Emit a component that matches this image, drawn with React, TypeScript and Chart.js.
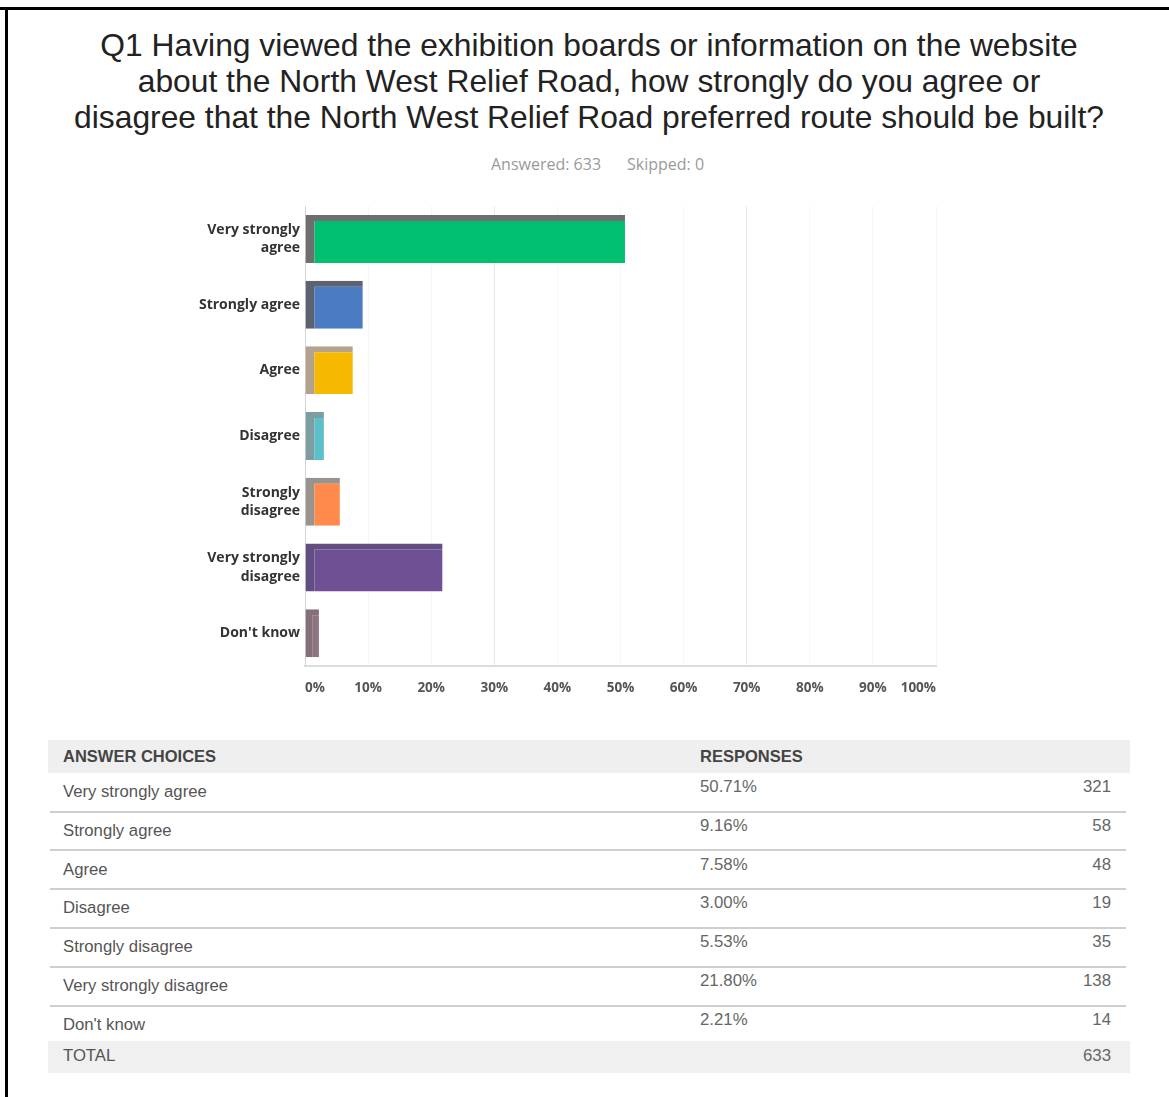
import React, { useEffect, useRef } from "react"
import { Chart, registerables } from "chart.js"

Chart.register(...registerables)

// chart data
const chartLabels: (string | string[])[] = [
  ["Very strongly", "agree"],
  "Strongly agree",
  "Agree",
  "Disagree",
  ["Strongly", "disagree"],
  ["Very strongly", "disagree"],
  "Don't know",
]
const answerChoices = [
  "Very strongly agree",
  "Strongly agree",
  "Agree",
  "Disagree",
  "Strongly disagree",
  "Very strongly disagree",
  "Don't know",
]
const percentages = [50.71, 9.16, 7.58, 3.0, 5.53, 21.8, 2.21]
const responseCounts = [321, 58, 48, 19, 35, 138, 14]
const totalCount = 633
const skippedCount = 0
const barColors = ["#00BF6F", "#4A7BC3", "#F7B900", "#5BC0C7", "#FF8A4C", "#6F5095", "#8E7480"]
const barEdgeColors = ["#6E6E6E", "#5C6270", "#B3A38E", "#7E9DA2", "#9A928C", "#624E82", "#847079"]

const titleLines = [
  "Q1 Having viewed the exhibition boards or information on the website",
  "about the North West Relief Road, how strongly do you agree or",
  "disagree that the North West Relief Road preferred route should be built?",
]

function BarChart() {
  const chartRef = useRef<HTMLCanvasElement>(null)
  const chartInstance = useRef<Chart | null>(null)

  useEffect(() => {
    if (!chartRef.current) return
    if (chartInstance.current) chartInstance.current.destroy()
    const ctx = chartRef.current.getContext("2d")
    if (!ctx) return

    chartInstance.current = new Chart(ctx, {
      type: "bar",
      data: {
        labels: chartLabels,
        datasets: [
          {
            data: percentages,
            backgroundColor: barColors,
            borderColor: barEdgeColors,
            borderWidth: { top: 6, left: 9, right: 0, bottom: 0 },
            borderSkipped: false,
            barPercentage: 0.73,
            categoryPercentage: 1,
          },
        ],
      },
      options: {
        indexAxis: "y",
        animation: false,
        responsive: true,
        maintainAspectRatio: false,
        layout: { padding: { top: 6, right: 14, left: 0, bottom: 0 } },
        plugins: { legend: { display: false }, tooltip: { enabled: false } },
        scales: {
          x: {
            min: 0,
            max: 100,
            afterFit: (scale: any) => {
              scale.height = 44
            },
            ticks: {
              stepSize: 10,
              align: "inner",
              padding: 14,
              color: "#555",
              font: { family: "'Open Sans', sans-serif", size: 13.5, weight: "bold" },
              callback: (v: any) => v + "%",
            },
            grid: {
              drawTicks: false,
              color: (c: any) =>
                c.tick && (c.tick.value === 30 || c.tick.value === 70) ? "#e9e9e9" : "#f7f7f7",
            },
            border: { color: "#dcdcdc", width: 2 },
          },
          y: {
            afterFit: (scale: any) => {
              scale.width = 125
            },
            ticks: {
              padding: 5,
              color: "#333",
              font: { family: "'Open Sans', sans-serif", size: 14, weight: "bold", lineHeight: 1.3 },
            },
            grid: { display: false, drawTicks: false },
            border: { color: "#d4d4d4", width: 1 },
          },
        },
      },
    })

    return () => {
      if (chartInstance.current) {
        chartInstance.current.destroy()
        chartInstance.current = null
      }
    }
  }, [])

  return (
    <div style={{ position: "absolute", left: 180, top: 192, width: 770, height: 518 }}>
      <canvas ref={chartRef} />
    </div>
  )
}

export default function App() {
  const rowStep = 38.8
  const cell = (top: number, extra: React.CSSProperties, text: React.ReactNode, key?: string) => (
    <div
      key={key}
      style={{ position: "absolute", top: top - 10, height: 20, lineHeight: "20px", whiteSpace: "nowrap", ...extra }}
    >
      {text}
    </div>
  )

  return (
    <div
      style={{
        position: "absolute",
        left: 0,
        top: 0,
        width: 1169,
        height: 1097,
        background: "#fff",
        overflow: "hidden",
        fontFamily: "'Liberation Sans', Arial, sans-serif",
      }}
    >
      {/* frame */}
      <div style={{ position: "absolute", left: 0, top: 7, width: 1169, height: 3, background: "#000" }} />
      <div style={{ position: "absolute", left: 5, top: 7, width: 3, height: 1090, background: "#000" }} />

      {/* question title */}
      <div
        style={{
          position: "absolute",
          left: 10,
          top: 27,
          width: 1158,
          textAlign: "center",
          fontSize: 31.8,
          lineHeight: "36px",
          color: "#222",
        }}
      >
        {titleLines.map((l, i) => (
          <div key={i}>{l}</div>
        ))}
      </div>

      {/* answered / skipped */}
      {cell(164, { left: 491, fontFamily: "'Open Sans', sans-serif", fontSize: 16, color: "#9a9a9a" }, `Answered: ${totalCount}`)}
      {cell(164, { left: 627, fontFamily: "'Open Sans', sans-serif", fontSize: 16, color: "#9a9a9a" }, `Skipped: ${skippedCount}`)}

      <BarChart />

      {/* table */}
      <div style={{ position: "absolute", left: 48, top: 740, width: 1082, height: 33, background: "#efefef" }} />
      {cell(756, { left: 63, fontSize: 16.5, fontWeight: "bold", color: "#444" }, "ANSWER CHOICES")}
      {cell(756, { left: 700, fontSize: 16.5, fontWeight: "bold", color: "#444" }, "RESPONSES")}

      {answerChoices.map((name, i) => {
        const y = 792 + rowStep * i
        return (
          <React.Fragment key={name}>
            {cell(y, { left: 63, fontSize: 16.7, color: "#555" }, name)}
            {cell(y - 5, { left: 700, fontSize: 16.8, color: "#666" }, percentages[i].toFixed(2) + "%")}
            {cell(y - 5, { left: 1000, width: 111, textAlign: "right", fontSize: 16.8, color: "#666" }, responseCounts[i])}
            {i < answerChoices.length - 1 && (
              <div
                style={{ position: "absolute", left: 50, top: y + 18.5, width: 1076, height: 2, background: "#cfcfcf" }}
              />
            )}
          </React.Fragment>
        )
      })}

      <div style={{ position: "absolute", left: 48, top: 1041, width: 1082, height: 32, background: "#f0f0f0" }} />
      {cell(1056, { left: 63, fontSize: 16.7, color: "#555" }, "TOTAL")}
      {cell(1056, { left: 1000, width: 111, textAlign: "right", fontSize: 16.8, color: "#666" }, totalCount)}
    </div>
  )
}
